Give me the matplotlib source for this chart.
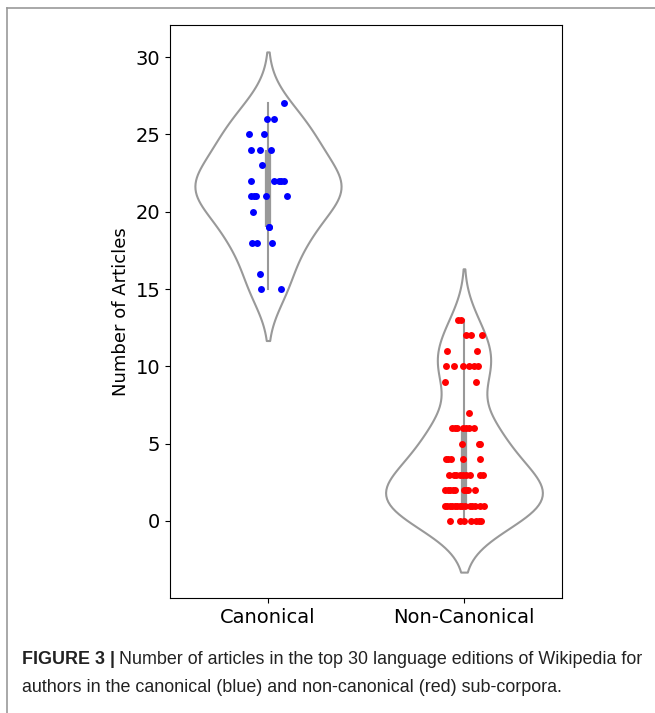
import numpy as np
import matplotlib.pyplot as plt
from matplotlib.lines import Line2D

# values, with the horizontal jitter of each dot (data units);
# a few dots sit on top of others (box and violin need them)
canon_vals = [27, 26, 26, 25, 25, 24, 24, 24, 23,
              22, 22, 22, 22, 22, 21, 21, 21, 21, 21, 20, 19, 19,
              18, 18, 18, 16, 15, 15]
canon_jit = [0.081, -0.003, 0.030, -0.095, -0.020, -0.085, -0.042, 0.017, -0.029,
             -0.088, 0.030, 0.055, 0.080, 0.066, -0.085, -0.063, -0.012, 0.098, -0.072,
             -0.076, 0.005, 0.006,
             -0.083, -0.054, 0.022, -0.041, -0.034, 0.064]

noncanon_vals = [13, 13, 12, 12, 12, 11, 11,
                 10, 10, 10, 10, 10, 10, 9, 9, 7,
                 6, 6, 6, 6, 6, 6, 6,
                 5, 5, 5, 4, 4, 4, 4, 4,
                 3, 3, 3, 3, 3, 3, 3, 3, 3,
                 2, 2, 2, 2, 2, 2, 2, 2, 2,
                 1, 1, 1, 1, 1, 1, 1, 1, 1, 1, 1, 1, 1, 1,
                 0, 0, 0, 0, 0, 0, 0]
noncanon_jit = [-0.030, -0.014, 0.008, 0.034, 0.091, -0.086, 0.068,
                -0.090, -0.051, -0.005, 0.024, 0.049, 0.071, -0.095, 0.063, 0.024,
                -0.061, -0.034, -0.005, 0.024, 0.051, 0.010, -0.045,
                -0.008, 0.080, 0.075, -0.093, -0.068, -0.005, 0.080, -0.080,
                -0.078, -0.051, -0.022, 0.012, 0.032, 0.080, 0.096, -0.005, -0.039,
                -0.095, -0.069, -0.044, -0.002, 0.020, 0.054, -0.080, 0.010, -0.055,
                -0.098, -0.073, -0.047, -0.022, 0.003, 0.029, 0.054, 0.080, 0.102,
                -0.085, -0.060, -0.035, -0.010, 0.041,
                -0.073, -0.022, 0.000, 0.037, 0.063, 0.088, 0.075]

categories = ['Canonical', 'Non-Canonical']
groups = [canon_vals, noncanon_vals]
jitters = [canon_jit, noncanon_jit]
dot_colors = ['#0000ff', '#ff0000']
GRAY = '#999999'
CUT = 2
WIDTH = 0.8

caption_bold = 'FIGURE 3 |'
caption_1 = 'Number of articles in the top 30 language editions of Wikipedia for'
caption_2 = 'authors in the canonical (blue) and non-canonical (red) sub-corpora.'


def kde(vals):
    v = np.asarray(vals, float)
    bw = v.std(ddof=1) * len(v) ** (-1 / 5)
    grid = np.linspace(v.min() - CUT * bw, v.max() + CUT * bw, 100)
    d = np.exp(-0.5 * ((grid[:, None] - v[None, :]) / bw) ** 2).sum(1)
    d /= len(v) * bw * np.sqrt(2 * np.pi)
    return grid, d


fig = plt.figure(figsize=(6.55, 7.13), dpi=100)
ax = fig.add_axes([0.2595, 0.1613, 0.5985, 0.8036])

dens = [kde(g) for g in groups]
dmax = max(d.max() for _, d in dens)

for i, (g, (grid, d)) in enumerate(zip(groups, dens)):
    w = d / dmax * WIDTH / 2
    ax.fill_betweenx(grid, i - w, i + w, facecolor='white', edgecolor=GRAY, lw=1.5, zorder=1)
    q1, q3 = np.percentile(g, [25, 75])
    ax.plot([i, i], [min(g), max(g)], color=GRAY, lw=1.5, zorder=2)
    ax.plot([i, i], [q1, q3], color=GRAY, lw=4.5, solid_capstyle='butt', zorder=2)
    ax.scatter(i + np.asarray(jitters[i]), g, s=25, color=dot_colors[i], lw=0, zorder=3)

ax.set_xlim(-0.5, 1.5)
ax.set_ylim(-4.98, 32.07)
ax.set_xticks([0, 1])
ax.set_xticklabels(categories, fontsize=14)
ax.set_yticks(range(0, 31, 5))
ax.tick_params(axis='y', labelsize=14)
ax.set_ylabel('Number of Articles', fontsize=13)

# page frame of the article layout
fig.add_artist(Line2D([7 / 655, 7 / 655], [0, 1 - 8 / 713], color='#999999', lw=1.2))
fig.add_artist(Line2D([7 / 655, 1], [1 - 8 / 713, 1 - 8 / 713], color='#999999', lw=1.2))

# caption, sized so the first line runs from x=22 to x=640 px
cap_font = ['Liberation Sans', 'DejaVu Sans']
y1 = 1 - 660 / 713
y2 = 1 - 688 / 713
fs = 12
tb = fig.text(22 / 655, y1, caption_bold, family=cap_font, fontsize=fs, weight='bold',
              color='#222222', va='center')
tr = fig.text(0, y1, caption_1, family=cap_font, fontsize=fs, color='#222222', va='center')
fig.canvas.draw()
r = fig.canvas.get_renderer()
total = tb.get_window_extent(r).width + 4 + tr.get_window_extent(r).width
fs = fs * 618 / total
tb.set_fontsize(fs)
tr.set_fontsize(fs)
fig.canvas.draw()
bb = tb.get_window_extent(r)
tr.set_x((bb.x1 + 4) / fig.bbox.width)
fig.text(22 / 655, y2, caption_2, family=cap_font, fontsize=fs, color='#222222', va='center')

fig.savefig('out.png', dpi=100)
